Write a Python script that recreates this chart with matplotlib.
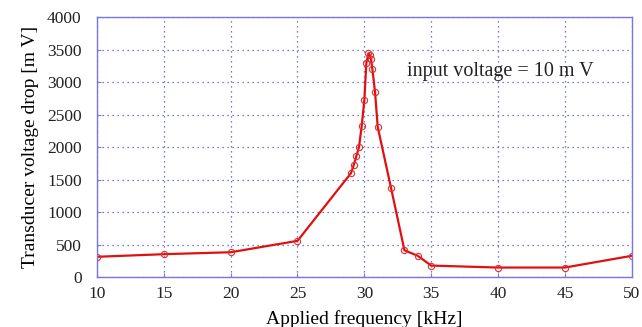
import numpy as np
import matplotlib
matplotlib.use("Agg")
import matplotlib.pyplot as plt

# data
freq = [10, 15, 20, 25, 29, 29.2, 29.4, 29.6, 29.8, 30, 30.15, 30.3, 30.4,
        30.5, 30.6, 30.8, 31, 32, 33, 34, 35, 40, 45, 50]
volt = [315, 355, 385, 560, 1600, 1720, 1860, 2000, 2320, 2720, 3290, 3440,
        3420, 3350, 3200, 2850, 2310, 1370, 415, 330, 180, 150, 150, 330]
xticks = [10, 15, 20, 25, 30, 35, 40, 45, 50]
yticks = [0, 500, 1000, 1500, 2000, 2500, 3000, 3500, 4000]

plt.rcParams['font.family'] = ['Liberation Serif', 'DejaVu Serif']
blue = '#7878dc'

fig = plt.figure(figsize=(6.42, 3.27), dpi=100)
ax = fig.add_axes([0.151, 0.152, 0.833, 0.796])

ax.plot(freq, volt, color='#e01010', lw=1.6, marker='o', ms=4.5,
        mfc='none', mec='#e03030', mew=0.8)

ax.set_xlim(10, 50)
ax.set_ylim(0, 4000)
ax.set_xticks(xticks)
ax.set_yticks(yticks)
ax.grid(True, color='#5050c8', ls=(0, (1, 3)), lw=0.9)
for s in ax.spines.values():
    s.set_color(blue)
    s.set_linewidth(1.0)
ax.tick_params(direction='in', colors=blue, labelcolor='#222222',
               labelsize=12.5, length=3)
ax.tick_params(axis='y', pad=11)
ax.tick_params(axis='x', pad=6)

ax.set_xlabel('Applied frequency [kHz]', fontsize=14, labelpad=6)
ax.set_ylabel('Transducer voltage drop [m V]', fontsize=14, labelpad=6)
ax.text(33.2, 3170, 'input voltage = 10 m V', fontsize=14.5,
        color='#222222', va='center')

fig.savefig('out.png', dpi=100)
